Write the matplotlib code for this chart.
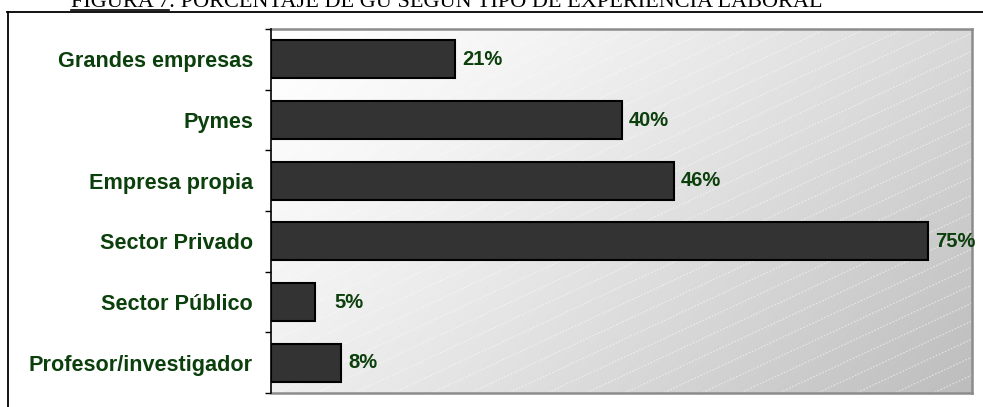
import numpy as np
import matplotlib
matplotlib.use('Agg')
import matplotlib.pyplot as plt
from matplotlib.lines import Line2D

# experiencia laboral de los GU (porcentaje)
categorias = ['Grandes empresas', 'Pymes', 'Empresa propia', 'Sector Privado',
              'Sector Público', 'Profesor/investigador']
porcentajes = [21, 40, 46, 75, 5, 8]
etiquetas = ['21%', '40%', '46%', '75%', '5%', '8%']

VERDE = '#0b3f0b'

fig = plt.figure(figsize=(9.83, 4.07), dpi=100)
W, H = 983, 407

# marco exterior (solo lados superior e izquierdo visibles)
fig.add_artist(Line2D([7 / W, 1.0], [1 - 12.3 / H, 1 - 12.3 / H], color='black', lw=1.3))
fig.add_artist(Line2D([7.5 / W, 7.5 / W], [0, 1 - 12.3 / H], color='black', lw=1.3))

# titulo: "FIGURA 7" subrayado + resto del texto
t1 = fig.text(71 / W, 1 - 7.3 / H, 'FIGURA 7', family='Liberation Serif', fontsize=16,
              va='baseline', ha='left')
renderer = fig.canvas.get_renderer()
bb = t1.get_window_extent(renderer)
fig.text(bb.x1 / W, 1 - 7.3 / H, ': PORCENTAJE DE GU SEGÚN TIPO DE EXPERIENCIA LABORAL',
         family='Liberation Serif', fontsize=16, va='baseline', ha='left')
fig.add_artist(Line2D([bb.x0 / W, bb.x1 / W], [1 - 9.5 / H, 1 - 9.5 / H], color='black', lw=1.2))

ax_l, ax_r, ax_t, ax_b = 271, 972, 29, 393
ax = fig.add_axes([ax_l / W, 1 - ax_b / H, (ax_r - ax_l) / W, (ax_b - ax_t) / H])

# fondo con degradado diagonal
aw, ah = ax_r - ax_l, ax_b - ax_t
gx, gy = np.meshgrid(np.linspace(0, 1, 300), np.linspace(0, 1, 160))
t = (gx * aw + gy * ah) / (aw + ah)
v = 1.0 - 0.26 * t ** 1.3
img = np.dstack([v, v, v])
ax.imshow(img, extent=[0, 1, 0, 1], origin='upper', transform=ax.transAxes,
          aspect='auto', zorder=0, interpolation='bilinear')

# rayado diagonal tenue
tan_a = np.tan(np.radians(25))
for c in np.arange(-aw * tan_a, ah + 18, 18):
    xs = np.array([0, aw])
    ys = xs * tan_a + c
    ax.plot(xs / aw, ys / ah, transform=ax.transAxes, color='white', lw=0.8,
            ls=(0, (1.5, 1.5)), alpha=0.55, zorder=0.5)

y = np.arange(len(categorias))
ax.barh(y, porcentajes, height=0.63, color='#333333', edgecolor='black', lw=1.5, zorder=2)

for i, (val, txt) in enumerate(zip(porcentajes, etiquetas)):
    pad = 20 if val < 6 else 7
    ax.annotate(txt, (val, i), xytext=(pad * 0.72, 0), textcoords='offset points',
                va='center', ha='left', fontsize=14.5, fontweight='bold', color=VERDE,
                family='Liberation Sans', annotation_clip=False, zorder=3)

ax.set_xlim(0, 80)
ax.set_ylim(len(categorias) - 0.5, -0.5)
ax.set_xticks([])
ax.set_yticks(y)
ax.set_yticklabels(categorias, fontsize=15.6, fontweight='bold', color=VERDE,
                   family='Liberation Sans')
ax.set_yticks(np.arange(-0.5, len(categorias), 1), minor=True)
ax.tick_params(axis='y', which='major', length=0, pad=13)
ax.tick_params(axis='y', which='minor', length=4.5, width=1, direction='out', color='black')

for s in ['top', 'right', 'bottom']:
    ax.spines[s].set_color('#8c8c8c')
    ax.spines[s].set_linewidth(1.8)
ax.spines['left'].set_color('black')
ax.spines['left'].set_linewidth(1.2)
ax.spines['left'].set_zorder(4)

fig.savefig('out.png', dpi=100)
